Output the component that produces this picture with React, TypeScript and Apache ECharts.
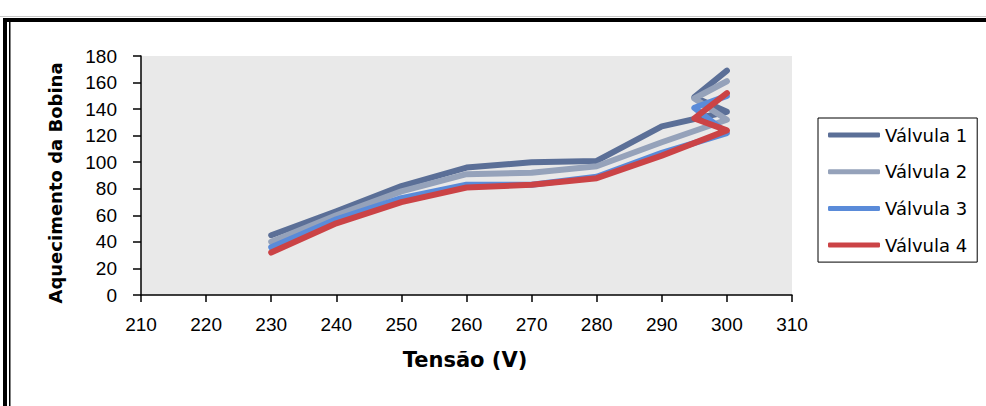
import React, { useEffect, useRef } from "react";
import * as echarts from "echarts";

const xValues = [230, 240, 250, 260, 270, 280, 290, 300, 295, 300];
const valvula1 = [45, 63, 82, 96, 100, 101, 127, 138, 149, 169];
const valvula2 = [40, 60, 78, 91, 92, 97, 115, 132, 148, 161];
const valvula3 = [36, 57, 73, 83, 83, 89, 107, 122, 141, 150];
const valvula4 = [32, 54, 70, 81, 83, 88, 105, 124, 133, 152];
const seriesNames = ["Válvula 1", "Válvula 2", "Válvula 3", "Válvula 4"];
const seriesColors = ["#5B6F97", "#95A2BA", "#5A8BD9", "#CB4346"];
const xTitle = "Tensão (V)";
const yTitle = "Aquecimento da Bobina";

const FONT = '"DejaVu Sans", Verdana, sans-serif';
const TICKFONT = '"Liberation Sans", Arial, sans-serif';

export default function App() {
  const ref = useRef<HTMLDivElement>(null);
  useEffect(() => {
    if (!ref.current) return;
    const chart = echarts.init(ref.current, null, { renderer: "svg" });
    const all = [valvula1, valvula2, valvula3, valvula4];
    chart.setOption({
      animation: false,
      backgroundColor: "#ffffff",
      textStyle: { fontFamily: FONT },
      grid: {
        left: 141,
        top: 56,
        right: 194,
        bottom: 111,
        show: true,
        backgroundColor: "#E9E9E9",
        borderWidth: 0,
      },
      xAxis: {
        type: "value",
        min: 210,
        max: 310,
        interval: 10,
        axisLine: { show: true, lineStyle: { color: "#000", width: 1.5 } },
        axisTick: { show: true, inside: false, length: 7, lineStyle: { color: "#000", width: 1.5 } },
        axisLabel: { color: "#000", fontSize: 19, fontFamily: TICKFONT, margin: 20 },
        splitLine: { show: false },
      },
      yAxis: {
        type: "value",
        min: 0,
        max: 180,
        interval: 20,
        axisLine: { show: true, lineStyle: { color: "#000", width: 1.5 } },
        axisTick: { show: true, inside: false, length: 8, lineStyle: { color: "#000", width: 1.5 } },
        axisLabel: { color: "#000", fontSize: 19, fontFamily: TICKFONT, margin: 24 },
        splitLine: { show: false },
      },
      legend: {
        orient: "vertical",
        left: 818,
        top: 118,
        padding: [7, 10, 7, 10],
        itemGap: 16.7,
        itemWidth: 52,
        itemHeight: 5,
        icon: "roundRect",
        borderColor: "#000",
        borderWidth: 1,
        backgroundColor: "#fff",
        textStyle: { color: "#000", fontSize: 18, fontFamily: FONT, lineHeight: 20 },
        data: seriesNames,
      },
      series: all.map((vals, i) => ({
        name: seriesNames[i],
        type: "line",
        data: xValues.map((x, j) => [x, vals[j]]),
        symbol: "none",
        color: seriesColors[i],
        lineStyle: { color: seriesColors[i], width: 6, cap: "round", join: "round" },
        itemStyle: { color: seriesColors[i] },
      })),
      graphic: [
        { type: "rect", shape: { x: 0, y: 16, width: 986, height: 1 }, style: { fill: "#c8c8c8" } },
        { type: "rect", shape: { x: 3, y: 18, width: 983, height: 4 }, style: { fill: "#000" } },
        { type: "rect", shape: { x: 3, y: 18, width: 4, height: 388 }, style: { fill: "#000" } },
        { type: "rect", shape: { x: 9, y: 22, width: 1.5, height: 384 }, style: { fill: "#000" } },
        {
          type: "text",
          x: 55,
          y: 183,
          rotation: Math.PI / 2,
          style: {
            text: yTitle,
            fontSize: 18,
            fontWeight: "bold",
            fontFamily: FONT,
            fill: "#000",
            align: "center",
            verticalAlign: "middle",
          },
        },
        {
          type: "text",
          x: 465,
          y: 360,
          style: {
            text: xTitle,
            fontSize: 21,
            fontWeight: "bold",
            fontFamily: FONT,
            fill: "#000",
            align: "center",
            verticalAlign: "middle",
          },
        },
      ],
    });
    return () => chart.dispose();
  }, []);
  return (
    <div
      ref={ref}
      style={{ position: "fixed", left: 0, top: 0, width: 986, height: 406 }}
    />
  );
}
